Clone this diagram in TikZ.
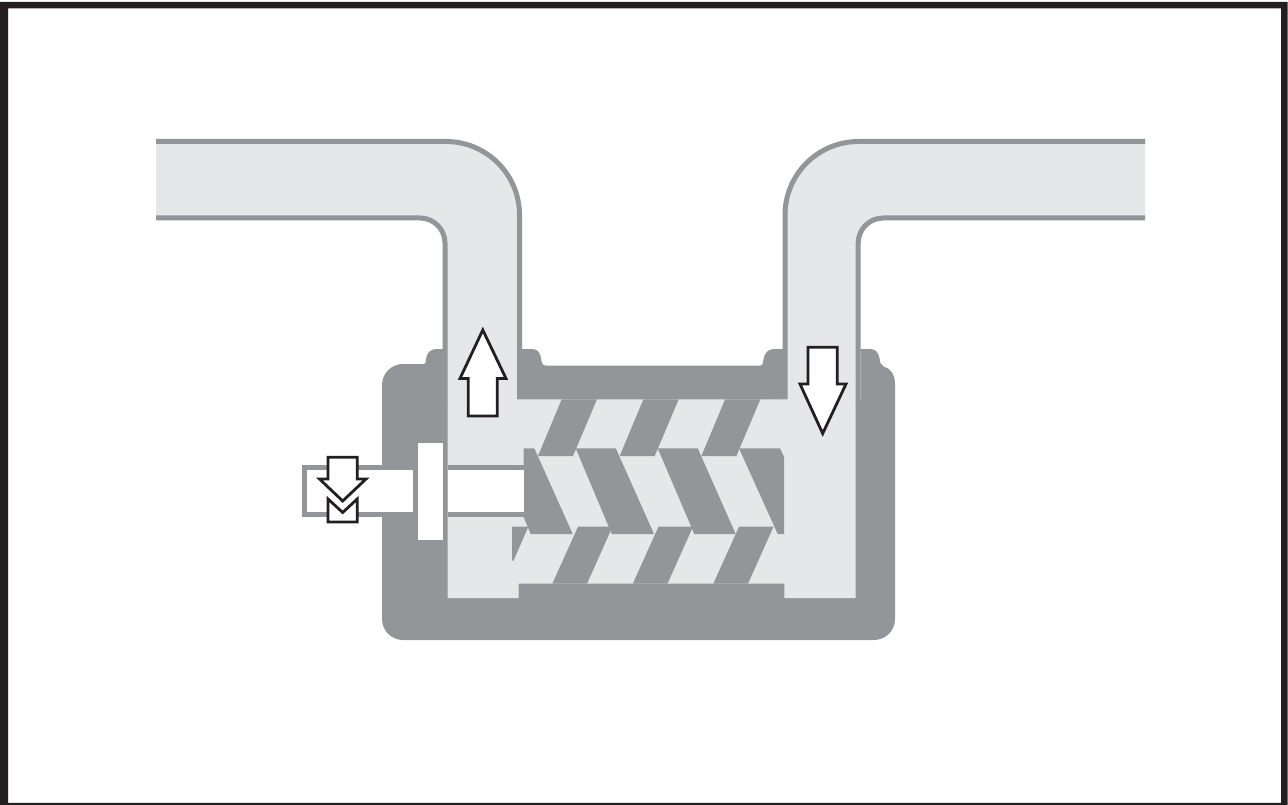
\documentclass[tikz,border=0pt]{standalone}
\definecolor{wallgray}{HTML}{939598}
\definecolor{flowlight}{HTML}{E6E7E8}
\definecolor{inkline}{HTML}{231F20}
\tikzset{
  solidgray/.style={fill=wallgray,draw=none},
  flowfill/.style={fill=flowlight,draw=none},
  pipewall/.style={draw=wallgray,line width=5pt},
  whitefill/.style={fill=white,draw=none},
  flowarrow/.style={draw=inkline,fill=white,line width=2.8pt,miter limit=10,line join=miter}
}
\begin{document}
\begin{tikzpicture}[x=1pt,y=-1pt]
\useasboundingbox (0,0) rectangle (1288,805);
% frame
\fill[white] (0,0) rectangle (1288,805);
\fill[inkline,even odd rule] (0,2) rectangle (1287.5,805) (8,8.3) rectangle (1281,802.8);
% pipe fills
\path[flowfill] (156,141.5) -- (446,141.5) arc[start angle=-90,end angle=0,radius=73.5] -- (519.5,400) -- (445,400) -- (445,243) arc[start angle=0,end angle=-90,radius=25] -- (156,218) -- cycle;
\path[flowfill] (1145,141.5) -- (858.5,141.5) arc[start angle=-90,end angle=-180,radius=73.5] -- (785,400) -- (858.2,400) -- (858.2,243) arc[start angle=-180,end angle=-90,radius=25] -- (1145,218) -- cycle;
% housing
\path[solidgray] (382,385) arc[start angle=180,end angle=270,radius=21] -- (424,364) .. controls (426,364) and (425.5,362) .. (426,359) .. controls (427,352) and (431,349) .. (437,349) -- (443,349) -- (443,400) -- (522,400) -- (522,349) -- (532,349) .. controls (537,349) and (540,352) .. (541,358) .. controls (541.5,362) and (542,365.7) .. (546,365.7) -- (760,365.7) .. controls (762,365.7) and (763,364) .. (763.3,361) .. controls (764,353) and (768,349) .. (774,349) -- (783,349) -- (783,400) -- (860.7,400) -- (860.7,349) -- (870,349) .. controls (875,349) and (878.5,352) .. (879.5,358) .. controls (880,362) and (880.5,365) .. (883.5,366.5) .. controls (890,368) and (895,374) .. (895,384) -- (895,619) arc[start angle=0,end angle=90,radius=21] -- (403,640) arc[start angle=90,end angle=180,radius=21] -- cycle;
% flow chamber
\path[flowfill] (447.7,395) -- (447.7,598) -- (518.7,598) -- (518.7,583.7) -- (784.3,583.7) -- (784.3,598) -- (855.7,598) -- (855.7,395) -- (787,395) -- (787,399.3) -- (517.7,399.3) -- (517.7,395) -- cycle;
% pipe walls
\draw[pipewall] (156,141.5) -- (446,141.5) arc[start angle=-90,end angle=0,radius=73.5] -- (519.5,399.3);
\draw[pipewall] (156,218) -- (420,218) arc[start angle=-90,end angle=0,radius=25] -- (445,401);
\draw[pipewall] (1145,141.5) -- (858.5,141.5) arc[start angle=-90,end angle=-180,radius=73.5] -- (785,399.3);
\draw[pipewall] (1145,218) -- (883.2,218) arc[start angle=-90,end angle=-180,radius=25] -- (858.2,401);
% upper rotor
\foreach \d in {0,81.7,163.4}{
  \path[solidgray] (561.7+\d,399.3) -- (597+\d,399.3) -- (573+\d,456) -- (538+\d,456) -- cycle;
}
% lower rotor
\foreach \d in {0,80.5,161}{
  \path[solidgray] (578+\d,526.7) -- (612.5+\d,526.7) -- (587+\d,583.7) -- (552.3+\d,583.7) -- cycle;
}
\path[solidgray] (512,526.7) -- (528.3,526.7) -- (513.5,560.7) -- (512,560.7) -- cycle;
% middle rotor
\path[solidgray] (523.5,448.3) -- (534.3,448.3) -- (572.7,534) -- (530.7,534) -- (523.5,516.7) -- cycle;
\path[solidgray] (575.7,448.3) -- (615.8,448.3) -- (654,534) -- (611.8,534) -- cycle;
\path[solidgray] (657.7,448.3) -- (697.7,448.3) -- (735.7,534) -- (694.3,534) -- cycle;
\path[solidgray] (739,448.3) -- (780,448.3) -- (784,456.7) -- (784,534) -- (777.7,534) -- cycle;
% shaft and coupling
\path[solidgray] (302.3,465.3) rectangle (382,517.3);
\path[solidgray] (447.7,465.3) rectangle (523.5,517.3);
\path[whitefill] (307.3,470.3) rectangle (412.7,512);
\path[whitefill] (447.7,470.3) rectangle (523.5,512);
\path[whitefill] (418,443.3) rectangle (442.7,540);
% arrows
\draw[flowarrow] (482.8,330) -- (506,378.5) -- (497.3,378.5) -- (497.3,416) -- (468.3,416) -- (468.3,378.5) -- (460,378.5) -- cycle;
\draw[flowarrow] (808,347.3) -- (837.3,347.3) -- (837.3,384) -- (846,384) -- (822.7,433.5) -- (800,384) -- (808,384) -- cycle;
\draw[flowarrow] (328,499) -- (328,522) -- (357.2,522) -- (357.2,499) -- (342.7,512.5) -- cycle;
\draw[flowarrow] (328,457.3) -- (357.2,457.3) -- (357.2,479) -- (366,479) -- (342.7,501) -- (319.5,479) -- (328,479) -- cycle;
\end{tikzpicture}
\end{document}
